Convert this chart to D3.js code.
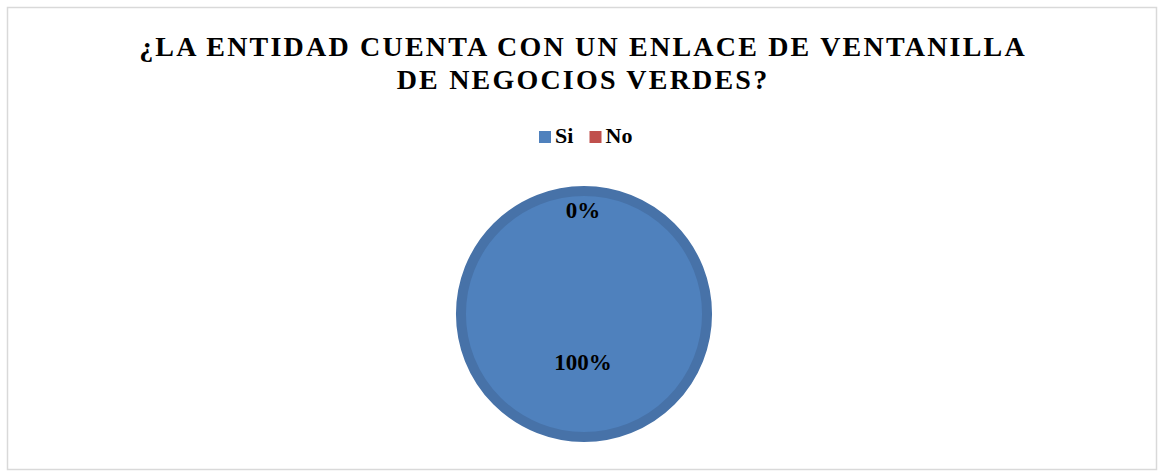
<!DOCTYPE html>
<html><head><meta charset="utf-8">
<script src="https://cdn.jsdelivr.net/npm/d3@7/dist/d3.min.js"></script>
<style>body{margin:0;background:#fff}svg{display:block}</style>
</head><body>
<svg id="c" width="1159" height="472"></svg>
<script>
const categories = ["Si", "No"];
const values = [100, 0];
const colors = ["#4f81bd", "#c0504d"];
const titleLines = ["¿LA ENTIDAD CUENTA CON UN ENLACE DE VENTANILLA", "DE NEGOCIOS VERDES?"];

const svg = d3.select("#c");
const font = "Liberation Serif";

svg.append("rect").attr("x", 7.5).attr("y", 7.5).attr("width", 1149).attr("height", 462)
  .attr("fill", "#fff").attr("stroke", "#d9d9d9").attr("stroke-width", 1.5);

svg.append("g").selectAll("text").data(titleLines).join("text")
  .attr("x", 583).attr("y", (d, i) => 56 + i * 33)
  .attr("text-anchor", "middle").style("font-family", font).style("font-weight", 700)
  .attr("font-size", 28).attr("letter-spacing", 2.2).attr("fill", "#000").text(d => d);

const leg = svg.append("g");
const legX = [539, 589.5];
categories.forEach((c, i) => {
  leg.append("rect").attr("x", legX[i]).attr("y", 131).attr("width", 12).attr("height", 12).attr("fill", colors[i]);
  leg.append("text").attr("x", legX[i] + 16).attr("y", 143.3).style("font-family", font).style("font-weight", 700)
    .attr("font-size", 22).attr("fill", "#000").text(c);
});

const cx = 584, cy = 314, r = 128;
const pie = d3.pie().sort(null).value(d => d)(values);
const arc = d3.arc().innerRadius(0).outerRadius(r - 5);
const g = svg.append("g").attr("transform", `translate(${cx},${cy})`);
const darker = ["#4772a8", "#a0403d"];
g.selectAll("path").data(pie.filter(d => d.value > 0)).join("path")
  .attr("d", arc).attr("fill", d => colors[d.index])
  .attr("stroke", d => darker[d.index]).attr("stroke-width", 10);

const labelR = [48, 104];
g.selectAll("text.lbl").data(pie).join("text").attr("class", "lbl")
  .attr("x", (d, i) => { const a = (d.startAngle + d.endAngle) / 2; return Math.sin(a) * labelR[i] - 1; })
  .attr("y", (d, i) => { const a = (d.startAngle + d.endAngle) / 2; return -Math.cos(a) * labelR[i]; })
  .attr("dy", "0.35em").attr("text-anchor", "middle").style("font-family", font).style("font-weight", 700)
  .attr("font-size", 23).attr("fill", "#000")
  .text((d, i) => Math.round(values[i] / d3.sum(values) * 100) + "%");
</script>
</body></html>
